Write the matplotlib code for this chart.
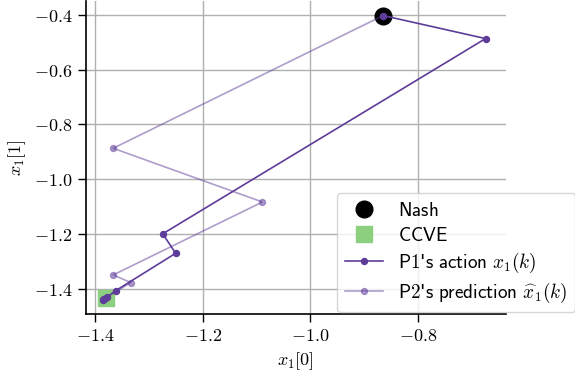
import matplotlib
matplotlib.use("Agg")
import matplotlib.pyplot as plt
from matplotlib.ticker import FixedLocator, FixedFormatter

plt.rcParams['mathtext.fontset'] = 'cm'
plt.rcParams['font.family'] = ['DejaVu Sans']
plt.rcParams['font.size'] = 13

nash = (-0.865, -0.403)
ccve = (-1.380, -1.434)

p1_x = [-0.865, -0.675, -1.274, -1.250, -1.361, -1.378, -1.383, -1.385]
p1_y = [-0.403, -0.487, -1.199, -1.270, -1.406, -1.431, -1.437, -1.440]

p2_x = [-0.865, -1.366, -1.089, -1.366, -1.333, -1.380, -1.384]
p2_y = [-0.403, -0.887, -1.083, -1.349, -1.377, -1.432, -1.438]

xticks = [-1.4, -1.2, -1.0, -0.8]
yticks = [-1.4, -1.2, -1.0, -0.8, -0.6, -0.4]

purple = '#5e3c99'

fig = plt.figure(figsize=(5.75, 3.75), dpi=100)
ax = fig.add_axes([0.149, 0.163, 0.731, 0.835])

ax.plot([nash[0]], [nash[1]], 'o', color='black', markersize=12, linestyle='none',
        label=r'$\mathsf{Nash}$', zorder=3)
ax.plot([ccve[0]], [ccve[1]], 's', color='#8ccf7e', markersize=12, linestyle='none',
        label=r'$\mathsf{CCVE}$', zorder=3)
ax.plot(p1_x, p1_y, '-o', color=purple, markersize=4.3, linewidth=1.2,
        label=r"$\mathsf{P1}$'$\mathsf{s\ action}\ x_1(k)$", zorder=4)
ax.plot(p2_x, p2_y, '-o', color=purple, alpha=0.5, markersize=4.3, linewidth=1.2,
        label=r"$\mathsf{P2}$'$\mathsf{s\ prediction}\ \widehat{x}_1(k)$", zorder=4)

ax.set_xlim(-1.417, -0.637)
ax.set_ylim(-1.491, -0.349)
ax.xaxis.set_major_locator(FixedLocator(xticks))
ax.xaxis.set_major_formatter(FixedFormatter([r'$%.1f$' % v for v in xticks]))
ax.yaxis.set_major_locator(FixedLocator(yticks))
ax.yaxis.set_major_formatter(FixedFormatter([r'$%.1f$' % v for v in yticks]))

ax.grid(True, color='#b0b0b0', linewidth=1.0)
ax.set_axisbelow(True)
for s in ['top', 'right']:
    ax.spines[s].set_visible(False)
for s in ['left', 'bottom']:
    ax.spines[s].set_linewidth(1.2)
ax.tick_params(direction='out', length=6, width=1.0, labelsize=13)

ax.set_xlabel(r'$x_1[0]$', fontsize=13, labelpad=4)
ax.set_ylabel(r'$x_1[1]$', fontsize=13, labelpad=4)

leg = ax.legend(loc='lower right', bbox_to_anchor=(1.165, 0.005), borderaxespad=0,
                fontsize=13.8, framealpha=0.8, fancybox=True, handlelength=2.0,
                labelspacing=0.3)

fig.savefig('out.png', dpi=100)
